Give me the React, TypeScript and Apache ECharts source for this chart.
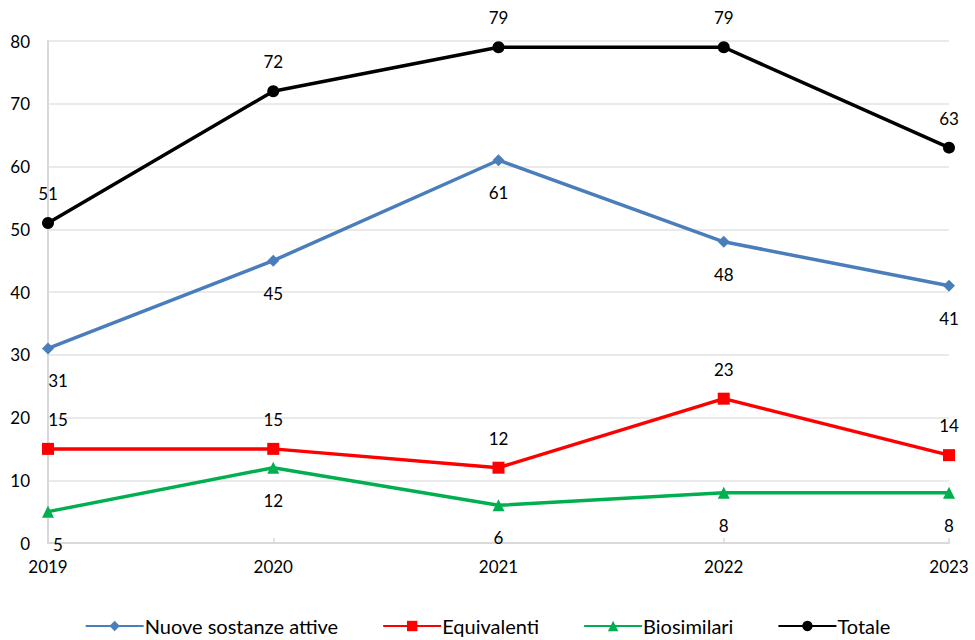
import React, { useEffect, useRef } from "react";
import * as echarts from "echarts";

const years = ["2019", "2020", "2021", "2022", "2023"];
const nuoveSostanze = [31, 45, 61, 48, 41];
const equivalenti = [15, 15, 12, 23, 14];
const biosimilari = [5, 12, 6, 8, 8];
const totale = [51, 72, 79, 79, 63];

const FONT = "Lato, 'Open Sans', sans-serif";

function withFirstOffset(values: number[], dx: number) {
  return values.map((v, i) =>
    i === 0 && dx !== 0 ? { value: v, label: { offset: [dx, 0] } } : v
  );
}

export default function App() {
  const ref = useRef<HTMLDivElement>(null);

  useEffect(() => {
    document.body.style.margin = "0";
    if (!ref.current) return;
    const chart = echarts.init(ref.current, undefined, { renderer: "svg" });

    const labelBase = {
      show: true,
      fontFamily: FONT,
      fontSize: 17,
      color: "#000",
    };

    const mkSeries = (
      name: string,
      data: number[],
      color: string,
      symbol: string,
      symbolSize: number,
      position: "top" | "bottom",
      firstDx: number
    ) => ({
      name,
      type: "line",
      data: withFirstOffset(data, firstDx),
      symbol,
      symbolSize,
      lineStyle: { color, width: 3.5 },
      itemStyle: { color },
      label: { ...labelBase, position, distance: position === "top" ? 15 : 18 },
      z: 3,
    });

    chart.setOption({
      animation: false,
      backgroundColor: "#fff",
      grid: { left: 48, right: 26, top: 41, bottom: 97, containLabel: false },
      xAxis: {
        type: "category",
        data: years,
        boundaryGap: false,
        axisLine: { lineStyle: { color: "#d9d9d9", width: 2 } },
        axisTick: { show: true, inside: true, length: 5, lineStyle: { color: "#d9d9d9", width: 1.5 } },
        axisLabel: { color: "#000", fontFamily: FONT, fontSize: 17, margin: 15 },
        splitLine: { show: false },
      },
      yAxis: {
        type: "value",
        min: 0,
        max: 80,
        interval: 10,
        axisLine: { show: true, lineStyle: { color: "#d9d9d9", width: 2 } },
        axisTick: { show: false },
        axisLabel: { color: "#000", fontFamily: FONT, fontSize: 17, margin: 18 },
        splitLine: { lineStyle: { color: "#e3e3e3", width: 1.5 } },
      },
      legend: {
        bottom: -1,
        left: "center",
        itemWidth: 58,
        itemHeight: 13,
        itemGap: 44,
        textStyle: { fontFamily: FONT, fontSize: 20, color: "#000", padding: [0, 0, 0, -4] },
        data: ["Nuove sostanze attive", "Equivalenti", "Biosimilari", "Totale"],
      },
      series: [
        mkSeries("Nuove sostanze attive", nuoveSostanze, "#4a7ebb", "diamond", 12, "bottom", 10),
        mkSeries("Equivalenti", equivalenti, "#ff0000", "rect", 12, "top", 10),
        mkSeries("Biosimilari", biosimilari, "#00b050", "triangle", 12, "bottom", 10),
        mkSeries("Totale", totale, "#000000", "circle", 12, "top", 0),
      ],
    });

    return () => chart.dispose();
  }, []);

  return <div ref={ref} style={{ width: 975, height: 640 }} />;
}
